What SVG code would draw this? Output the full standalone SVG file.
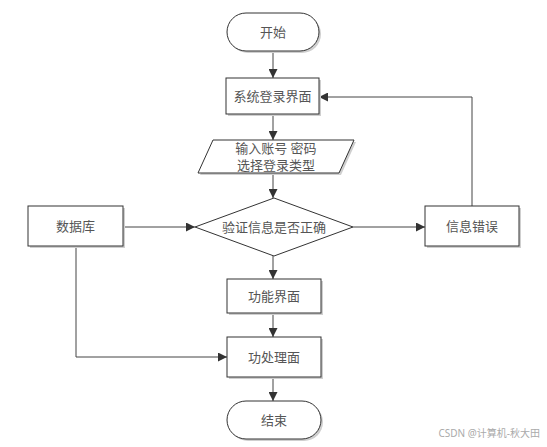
<svg xmlns="http://www.w3.org/2000/svg" width="547" height="447" viewBox="0 0 547 447">
<defs>
<style>
.sh{fill:#cfcfcf;stroke:none}
.n{fill:#fff;stroke:#333;stroke-width:1}
.t{font-family:"Liberation Serif","Noto Sans CJK SC",serif;font-size:13px;fill:#555;text-anchor:middle;dominant-baseline:central}
.c{fill:none;stroke:#444;stroke-width:1}
</style>
<marker id="ar" viewBox="0 0 10 10" refX="10" refY="5" markerWidth="9" markerHeight="9" markerUnits="userSpaceOnUse" orient="auto">
<path d="M0,0 L10,5 L0,10 z" fill="#333"/>
</marker>
</defs>
<rect width="547" height="447" fill="#fff"/>
<g id="connectors">
<line class="c" x1="273" y1="51" x2="273" y2="78" marker-end="url(#ar)"/>
<line class="c" x1="273" y1="114" x2="273" y2="140" marker-end="url(#ar)"/>
<line class="c" x1="273" y1="173" x2="273" y2="198" marker-end="url(#ar)"/>
<line class="c" x1="273" y1="256" x2="273" y2="279" marker-end="url(#ar)"/>
<line class="c" x1="273" y1="313" x2="273" y2="337" marker-end="url(#ar)"/>
<line class="c" x1="273" y1="377" x2="273" y2="401" marker-end="url(#ar)"/>
<line class="c" x1="123" y1="227" x2="195" y2="227" marker-end="url(#ar)"/>
<line class="c" x1="353" y1="227" x2="425" y2="227" marker-end="url(#ar)"/>
<polyline class="c" points="472,206 472,97 319,97" marker-end="url(#ar)"/>
<polyline class="c" points="76,246 76,357 227,357" marker-end="url(#ar)"/>
</g>
<g id="start">
<rect class="sh" x="229" y="15" width="92" height="38" rx="19"/>
<rect class="n" x="227" y="13" width="92" height="38" rx="19"/>
<text class="t" x="273" y="32">开始</text>
</g>
<g id="login">
<rect class="sh" x="228" y="80" width="93" height="36"/>
<rect class="n" x="226" y="78" width="93" height="36"/>
<text class="t" x="272.5" y="96">系统登录界面</text>
</g>
<g id="input">
<polygon class="sh" points="215,142 356,142 341,175 200,175"/>
<polygon class="n" points="213,140 354,140 339,173 198,173"/>
<text class="t" x="276" y="148">输入账号 密码</text>
<text class="t" x="276" y="165">选择登录类型</text>
</g>
<g id="verify">
<polygon class="n" points="274,198 353,227 274,256 195,227"/>
<text class="t" x="274" y="227">验证信息是否正确</text>
</g>
<g id="database">
<rect class="sh" x="30" y="208" width="95" height="40"/>
<rect class="n" x="28" y="206" width="95" height="40"/>
<text class="t" x="75.5" y="226">数据库</text>
</g>
<g id="error">
<rect class="sh" x="427" y="208" width="94" height="40"/>
<rect class="n" x="425" y="206" width="94" height="40"/>
<text class="t" x="472" y="226">信息错误</text>
</g>
<g id="func">
<rect class="sh" x="229" y="281" width="94" height="34"/>
<rect class="n" x="227" y="279" width="94" height="34"/>
<text class="t" x="274" y="296">功能界面</text>
</g>
<g id="process">
<rect class="sh" x="229" y="339" width="94" height="40"/>
<rect class="n" x="227" y="337" width="94" height="40"/>
<text class="t" x="274" y="357">功处理面</text>
</g>
<g id="end">
<rect class="sh" x="229" y="403" width="94" height="38" rx="19"/>
<rect class="n" x="227" y="401" width="94" height="38" rx="19"/>
<text class="t" x="274" y="420">结束</text>
</g>
<text x="540" y="437" font-family="'Noto Sans','Noto Sans CJK SC',sans-serif" font-size="10" fill="#aaa" text-anchor="end">CSDN @计算机-秋大田</text>
</svg>
